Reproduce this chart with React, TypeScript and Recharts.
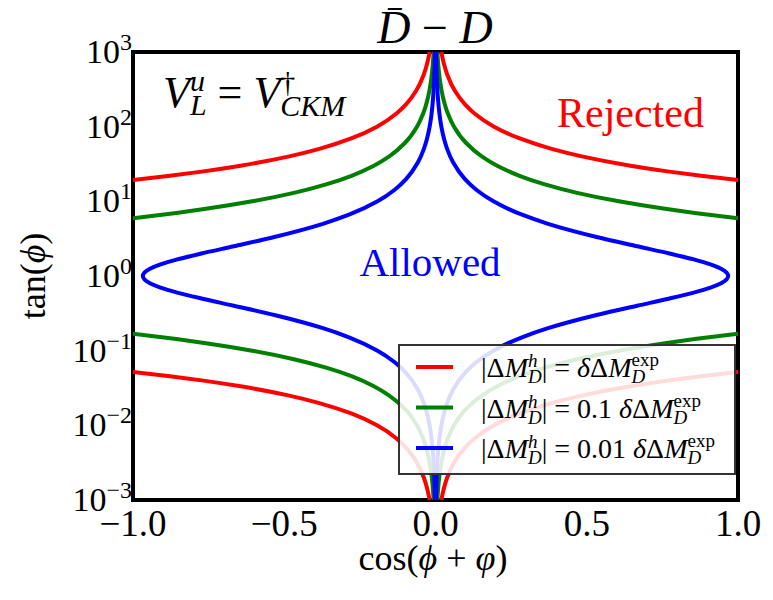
import React from 'react';
import { LineChart, Line, XAxis, YAxis, ReferenceArea } from 'recharts';

const FONT = "'Liberation Serif', 'DejaVu Serif', serif";
const RED = '#ff0000';
const GREEN = '#008000';
const BLUE = '#0000ff';

// axis ticks
const xTicks = [-1, -0.5, 0, 0.5, 1];
const xTickLabels = ['\u22121.0', '\u22120.5', '0.0', '0.5', '1.0'];
const xInnerTicks = [-0.5, 0, 0.5];
const yTicks = [0.001, 0.01, 0.1, 1, 10, 100, 1000];
const yTickExponents = ['\u22123', '\u22122', '\u22121', '0', '1', '2', '3'];
const yMinorTicks = [
  0.002, 0.003, 0.004, 0.005, 0.006, 0.007, 0.008, 0.009,
  0.02, 0.03, 0.04, 0.05, 0.06, 0.07, 0.08, 0.09,
  0.2, 0.3, 0.4, 0.5, 0.6, 0.7, 0.8, 0.9,
  2, 3, 4, 5, 6, 7, 8, 9,
  20, 30, 40, 50, 60, 70, 80, 90,
  200, 300, 400, 500, 600, 700, 800, 900,
];

// red curve: |ΔM| = δΔM_exp
const redUpperTan = [18, 19.3, 22, 25, 30, 40, 50, 70, 100, 150, 200, 300, 500, 700, 1000];
const redUpperCosR = [1.0717, 1.0, 0.8777, 0.7728, 0.6443, 0.4835, 0.3869, 0.2764, 0.1935, 0.129, 0.0968, 0.0645, 0.0387, 0.0276, 0.0194];
const redUpperCosL = [-1.0717, -1.0, -0.8777, -0.7728, -0.6443, -0.4835, -0.3869, -0.2764, -0.1935, -0.129, -0.0968, -0.0645, -0.0387, -0.0276, -0.0194];
const redLowerTan = [0.001, 0.00143, 0.002, 0.00333, 0.005, 0.00667, 0.01, 0.0143, 0.02, 0.025, 0.0333, 0.04, 0.0455, 0.0518, 0.0556];
const redLowerCosR = [0.0194, 0.0276, 0.0387, 0.0645, 0.0968, 0.129, 0.1935, 0.2764, 0.3869, 0.4835, 0.6443, 0.7728, 0.8777, 1.0, 1.0717];
const redLowerCosL = [-0.0194, -0.0276, -0.0387, -0.0645, -0.0968, -0.129, -0.1935, -0.2764, -0.3869, -0.4835, -0.6443, -0.7728, -0.8777, -1.0, -1.0717];

// green curve: 0.1 δΔM_exp
const greenUpperTan = [5.5, 5.952, 7, 8, 10, 13, 17, 22, 30, 40, 60, 100, 150, 250, 400, 600, 1000];
const greenUpperCosR = [1.0771, 1.0, 0.8568, 0.7532, 0.6059, 0.468, 0.3588, 0.2776, 0.2038, 0.1529, 0.102, 0.0612, 0.0408, 0.0245, 0.0153, 0.0102, 0.0061];
const greenUpperCosL = [-1.0771, -1.0, -0.8568, -0.7532, -0.6059, -0.468, -0.3588, -0.2776, -0.2038, -0.1529, -0.102, -0.0612, -0.0408, -0.0245, -0.0153, -0.0102, -0.0061];
const greenLowerTan = [0.001, 0.00167, 0.0025, 0.004, 0.00667, 0.01, 0.0167, 0.025, 0.0333, 0.0455, 0.0588, 0.0769, 0.1, 0.125, 0.1429, 0.168, 0.1818];
const greenLowerCosR = [0.0061, 0.0102, 0.0153, 0.0245, 0.0408, 0.0612, 0.102, 0.1529, 0.2038, 0.2776, 0.3588, 0.468, 0.6059, 0.7532, 0.8568, 1.0, 1.0771];
const greenLowerCosL = [-0.0061, -0.0102, -0.0153, -0.0245, -0.0408, -0.0612, -0.102, -0.1529, -0.2038, -0.2776, -0.3588, -0.468, -0.6059, -0.7532, -0.8568, -1.0, -1.0771];

// blue curve: 0.01 δΔM_exp (closed loop)
const blueTan = [0.001, 0.002, 0.003, 0.005, 0.007, 0.01, 0.015, 0.02, 0.03, 0.05, 0.07, 0.1, 0.15, 0.2, 0.3, 0.4, 0.5, 0.6, 0.7, 0.8, 0.9, 1, 1.111, 1.25, 1.429, 1.667, 2, 2.5, 3.333, 5, 6.667, 10, 14.29, 20, 33.33, 50, 66.67, 100, 142.9, 200, 333.3, 500, 1000];
const blueCosR = [0.0019, 0.0039, 0.0058, 0.0097, 0.0135, 0.0193, 0.029, 0.0387, 0.058, 0.0966, 0.1348, 0.1916, 0.2839, 0.3721, 0.5326, 0.6672, 0.774, 0.8537, 0.9091, 0.9439, 0.9622, 0.9675, 0.9622, 0.9439, 0.9091, 0.8537, 0.774, 0.6672, 0.5326, 0.3721, 0.2839, 0.1916, 0.1348, 0.0966, 0.058, 0.0387, 0.029, 0.0193, 0.0135, 0.0097, 0.0058, 0.0039, 0.0019];
const blueCosL = [-0.0019, -0.0039, -0.0058, -0.0097, -0.0135, -0.0193, -0.029, -0.0387, -0.058, -0.0966, -0.1348, -0.1916, -0.2839, -0.3721, -0.5326, -0.6672, -0.774, -0.8537, -0.9091, -0.9439, -0.9622, -0.9675, -0.9622, -0.9439, -0.9091, -0.8537, -0.774, -0.6672, -0.5326, -0.3721, -0.2839, -0.1916, -0.1348, -0.0966, -0.058, -0.0387, -0.029, -0.0193, -0.0135, -0.0097, -0.0058, -0.0039, -0.0019];

const legendCoefs = ['', '0.1 ', '0.01 '];
const legendColors = [RED, GREEN, BLUE];

const pts = (xs: number[], ys: number[]) => xs.map((x, i) => ({ x, y: ys[i] }));

const series = [
  { key: 'rUR', color: RED, data: pts(redUpperCosR, redUpperTan) },
  { key: 'rUL', color: RED, data: pts(redUpperCosL, redUpperTan) },
  { key: 'rLR', color: RED, data: pts(redLowerCosR, redLowerTan) },
  { key: 'rLL', color: RED, data: pts(redLowerCosL, redLowerTan) },
  { key: 'gUR', color: GREEN, data: pts(greenUpperCosR, greenUpperTan) },
  { key: 'gUL', color: GREEN, data: pts(greenUpperCosL, greenUpperTan) },
  { key: 'gLR', color: GREEN, data: pts(greenLowerCosR, greenLowerTan) },
  { key: 'gLL', color: GREEN, data: pts(greenLowerCosL, greenLowerTan) },
  { key: 'bR', color: BLUE, data: pts(blueCosR, blueTan) },
  { key: 'bL', color: BLUE, data: pts(blueCosL, blueTan) },
];

const W = 757;
const H = 584;

const emptyTick = () => <g />;

const YTick = (props: any) => {
  const { x, y, payload } = props;
  const idx = yTicks.indexOf(payload.value);
  return (
    <text x={x} y={y} dy={11} textAnchor="end" fontSize={34} fontFamily={FONT} fill="#000">
      10
      <tspan fontSize={24} dy={-13}>{yTickExponents[idx]}</tspan>
    </text>
  );
};

// overlay uses page coordinates (covers the whole 773x600 window)
const Overlay = () => (
  <svg
    width={773}
    height={600}
    style={{ position: 'absolute', left: -8, top: -8, pointerEvents: 'none' }}
    fontFamily={FONT}
  >
    {/* title */}
    <text x={435} y={43} textAnchor="middle" fontSize={46} fill="#000">
      <tspan fontStyle="italic">{'D\u0304'}</tspan>
      <tspan>{' \u2212 '}</tspan>
      <tspan fontStyle="italic">D</tspan>
    </text>
    {/* x label */}
    <text x={433} y={570} textAnchor="middle" fontSize={36} fill="#000">
      <tspan>cos(</tspan>
      <tspan fontStyle="italic">{'\u03d5'}</tspan>
      <tspan>{' + '}</tspan>
      <tspan fontStyle="italic">{'\u03c6'}</tspan>
      <tspan>)</tspan>
    </text>
    {/* y label */}
    <text transform="translate(45, 276) rotate(-90)" textAnchor="middle" fontSize={36} fill="#000">
      <tspan>tan(</tspan>
      <tspan fontStyle="italic">{'\u03d5'}</tspan>
      <tspan>)</tspan>
    </text>
    {/* V_L^u = V_CKM^dagger */}
    <text x={163} y={107} fontSize={44} fill="#000">
      <tspan fontStyle="italic">V</tspan>
      <tspan fontSize={30} fontStyle="italic" dy={-16}>u</tspan>
      <tspan fontSize={30} fontStyle="italic" dx={-15} dy={24}>L</tspan>
      <tspan dy={-8}>{' = '}</tspan>
      <tspan fontStyle="italic">V</tspan>
      <tspan fontSize={30} dy={-15}>{'\u2020'}</tspan>
      <tspan fontSize={30} fontStyle="italic" dx={-15} dy={24}>CKM</tspan>
    </text>
    <text x={557} y={127} fontSize={42} fill={RED}>Rejected</text>
    <text x={430} y={276} textAnchor="middle" fontSize={41} fill={BLUE}>Allowed</text>
    {/* legend */}
    <rect x={399} y={345} width={336} height={129} fill="#fff" fillOpacity={0.86} stroke="#333" strokeWidth={2} />
    {legendColors.map((c, i) => {
      const ly = 367 + i * 40.5;
      const bl = 377 + i * 40.5;
      return (
        <g key={i}>
          <line x1={416} x2={453} y1={ly} y2={ly} stroke={c} strokeWidth={4} />
          <text x={481} y={bl} fontSize={28} fill="#000">
            <tspan>{'|\u0394'}</tspan>
            <tspan fontStyle="italic">M</tspan>
            <tspan fontSize={19} fontStyle="italic" dy={-10}>h</tspan>
            <tspan fontSize={19} fontStyle="italic" dx={-9.5} dy={16}>D</tspan>
            <tspan dy={-6}>{'| = ' + legendCoefs[i]}</tspan>
            <tspan fontStyle="italic">{'\u03b4'}</tspan>
            <tspan>{'\u0394'}</tspan>
            <tspan fontStyle="italic">M</tspan>
            <tspan fontSize={19} dy={-11}>exp</tspan>
            <tspan fontSize={19} fontStyle="italic" dx={-27.5} dy={17}>D</tspan>
          </text>
        </g>
      );
    })}
  </svg>
);

export default function App() {
  return (
    <div style={{ position: 'relative', width: W, height: H }}>
      <LineChart width={W} height={H} margin={{ top: 44, right: 27, bottom: 42, left: 15 }}>
        <XAxis
          dataKey="x"
          type="number"
          domain={[-1, 1]}
          allowDataOverflow
          ticks={xTicks}
          interval={0}
          tickFormatter={(v: number) => xTickLabels[xTicks.indexOf(v)]}
          tickLine={false}
          axisLine={false}
          tickSize={0}
          tickMargin={10}
          height={50}
          tick={{ fontSize: 37, fill: '#000', fontFamily: FONT }}
        />
        <XAxis xAxisId="xt" orientation="top" mirror type="number" domain={[-1, 1]} allowDataOverflow ticks={xInnerTicks} interval={0} tickSize={8} tick={emptyTick} tickLine={{ stroke: '#000', strokeWidth: 1 }} axisLine={false} height={0} />
        <XAxis xAxisId="xb" orientation="bottom" mirror type="number" domain={[-1, 1]} allowDataOverflow ticks={xInnerTicks} interval={0} tickSize={8} tick={emptyTick} tickLine={{ stroke: '#000', strokeWidth: 1 }} axisLine={false} height={0} />
        <YAxis
          type="number"
          scale="log"
          domain={[0.001, 1000]}
          allowDataOverflow
          ticks={yTicks}
          interval={0}
          tick={<YTick />}
          tickLine={false}
          axisLine={false}
          tickSize={0}
          tickMargin={1}
          width={110}
        />
        <YAxis yAxisId="ylM" orientation="left" mirror type="number" scale="log" domain={[0.001, 1000]} allowDataOverflow ticks={yTicks} interval={0} tickSize={8} tick={emptyTick} tickLine={{ stroke: '#000', strokeWidth: 1 }} axisLine={false} width={0} />
        <YAxis yAxisId="ylm" orientation="left" mirror type="number" scale="log" domain={[0.001, 1000]} allowDataOverflow ticks={yMinorTicks} interval={0} tickSize={4} tick={emptyTick} tickLine={{ stroke: '#000', strokeWidth: 1 }} axisLine={false} width={0} />
        <YAxis yAxisId="yrM" orientation="right" mirror type="number" scale="log" domain={[0.001, 1000]} allowDataOverflow ticks={yTicks} interval={0} tickSize={8} tick={emptyTick} tickLine={{ stroke: '#000', strokeWidth: 1 }} axisLine={false} width={0} />
        <YAxis yAxisId="yrm" orientation="right" mirror type="number" scale="log" domain={[0.001, 1000]} allowDataOverflow ticks={yMinorTicks} interval={0} tickSize={4} tick={emptyTick} tickLine={{ stroke: '#000', strokeWidth: 1 }} axisLine={false} width={0} />
        {series.map((s) => (
          <Line
            key={s.key}
            data={s.data}
            dataKey="y"
            type="monotoneY"
            stroke={s.color}
            strokeWidth={4}
            dot={false}
            activeDot={false}
            legendType="none"
            isAnimationActive={false}
          />
        ))}
        <ReferenceArea x1={-1} x2={1} y1={0.001} y2={1000} fill="none" stroke="#000" strokeWidth={4} />
      </LineChart>
      <Overlay />
    </div>
  );
}
